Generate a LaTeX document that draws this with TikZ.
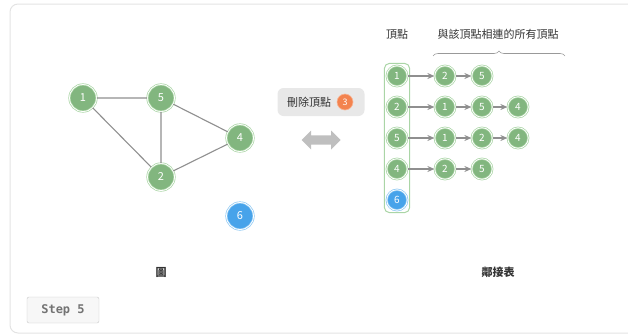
\documentclass[tikz,border=0pt]{standalone}
\usepackage{fontspec}
\setmainfont{Noto Sans CJK TC}
\setmonofont{DejaVu Sans Mono}
\usetikzlibrary{arrows.meta,shapes.arrows,decorations.pathreplacing,fit}
\definecolor{vgreen}{HTML}{82B67F}
\definecolor{vring}{HTML}{AAD5A6}
\definecolor{vblue}{HTML}{47A3EA}
\definecolor{vbluering}{HTML}{8DC8F3}
\definecolor{vorange}{HTML}{F3834F}
\definecolor{edgegray}{HTML}{8F8F8F}
\definecolor{txtgray}{HTML}{333333}
\tikzset{vert/.style={circle, fill=vgreen, draw=vring, double=white, double distance=0.8pt, line width=0.7pt, text=white, inner sep=0pt},
  bigvert/.style={vert, minimum size=27pt, font=\fontsize{11}{11}\selectfont},
  smallvert/.style={vert, minimum size=20.5pt, font=\fontsize{10}{10}\selectfont},
  blue/.style={fill=vblue, draw=vbluering},
  link/.style={draw=edgegray, line width=1.1pt},
  ptr/.style={draw=edgegray, line width=1.2pt, -{Stealth[length=7pt,width=6pt]}},
  caption/.style={text=txtgray, font=\fontsize{11}{11}\selectfont}}

\begin{document}
\begin{tikzpicture}[x=1pt, y=-1pt]
    \useasboundingbox (0,0) rectangle (628,335);
    \begin{scope}
        \clip (0,0) rectangle (628,335);
        \draw[draw=black!11, line width=1pt, rounded corners=8pt] (10,4) rectangle (660,333);
    \end{scope}
    % Graph
    \node[bigvert] (g1) at (83,98) {1};
    \node[bigvert] (g5) at (161,98) {5};
    \node[bigvert] (g4) at (240,138) {4};
    \node[bigvert] (g2) at (161,177) {2};
    \node[bigvert, blue] (g6) at (240,216) {6};
    \draw[link] (g1) -- (g5) (g1) -- (g2) (g5) -- (g2) (g5) -- (g4) (g2) -- (g4);
    \node[caption, font=\bfseries\fontsize{11}{11}\selectfont] (lgraph) at (161,272) {圖};
    % Delete badge
    \node[fill=black!9, rounded corners=6pt, minimum width=87pt, minimum height=28pt] (badge) at (321,102) {};
    \node[caption, anchor=center] (deltxt) at (309,102) {刪除頂點};
    \node[circle, fill=vorange, draw=vorange!60, line width=0.6pt, text=white, inner sep=0pt, minimum size=16pt, font=\fontsize{9}{9}\selectfont] (delnum) at (345,102) {3};
    \node[double arrow, fill=black!25, minimum height=39pt, minimum width=19pt, inner sep=3pt, double arrow head extend=3.5pt] (swap) at (321,140) {};
    % Adjacency list
    \node[caption] (hvert) at (397,34) {頂點};
    \node[caption] (hadj) at (498,34) {與該頂點相連的所有頂點};
    \coordinate (bl) at (433,56); \coordinate (br) at (565,56);
    \draw[draw=black!40, line width=0.6pt, decorate, decoration={brace, amplitude=5pt}] (bl) -- (br);
    \node[smallvert] (c1) at (397,76) {1};
    \node[smallvert] (c2) at (397,107) {2};
    \node[smallvert] (c5) at (397,138) {5};
    \node[smallvert] (c4) at (397,169) {4};
    \node[smallvert, blue] (c6) at (397,200) {6};
    \node[draw=vring, line width=1pt, rounded corners=5pt, inner sep=2pt, fit=(c1)(c6)] (colbox) {};
    \node[smallvert] (a12) at (445,76) {2};
    \node[smallvert] (a15) at (482,76) {5};
    \node[smallvert] (a21) at (445,107) {1};
    \node[smallvert] (a25) at (482,107) {5};
    \node[smallvert] (a24) at (518,107) {4};
    \node[smallvert] (a51) at (445,138) {1};
    \node[smallvert] (a52) at (482,138) {2};
    \node[smallvert] (a54) at (518,138) {4};
    \node[smallvert] (a42) at (445,169) {2};
    \node[smallvert] (a45) at (482,169) {5};
    \draw[ptr] (c1) -- (a12); \draw[ptr] (a12) -- (a15);
    \draw[ptr] (c2) -- (a21); \draw[ptr] (a21) -- (a25); \draw[ptr] (a25) -- (a24);
    \draw[ptr] (c5) -- (a51); \draw[ptr] (a51) -- (a52); \draw[ptr] (a52) -- (a54);
    \draw[ptr] (c4) -- (a42); \draw[ptr] (a42) -- (a45);
    \node[caption, font=\bfseries\fontsize{11}{11}\selectfont] (ladj) at (498,272) {鄰接表};
    % Step button
    \node[draw=black!22, fill=black!3, rounded corners=2pt, minimum width=72pt, minimum height=26pt, text=black!55, font=\ttfamily\bfseries\fontsize{12}{12}\selectfont] (step5) at (63,310) {Step 5};
\end{tikzpicture}
\end{document}
